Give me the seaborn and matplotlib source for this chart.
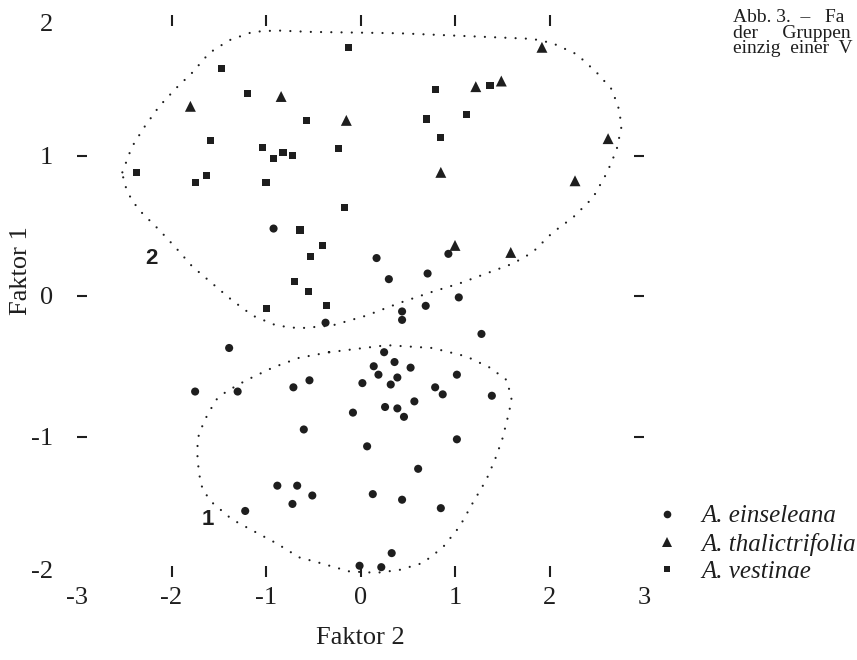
import numpy as np
import pandas as pd
import seaborn as sns
import matplotlib.pyplot as plt
from matplotlib.lines import Line2D

# Faktorwerte (x = Faktor 2, y = Faktor 1) je Art
einseleana_x = [-0.92, -0.37, 0.17, 0.30, 0.71, 0.93, 1.04, 0.69, 0.44, 0.44,
                -1.39, -1.75, -1.30, -0.71, -0.54, -0.60, -0.88, -0.67, -0.51, -0.72,
                -1.22, 1.28, 0.25, 0.14, 0.19, 0.36, 0.53, 0.39, 0.32, 0.02,
                1.02, 0.79, 0.87, 1.39, -0.08, 0.26, 0.39, 0.46, 0.57, 0.07,
                1.02, 0.61, 0.13, 0.44, 0.85, 0.33, -0.01, 0.22]
einseleana_y = [0.48, -0.19, 0.27, 0.12, 0.16, 0.30, -0.01, -0.07, -0.11, -0.17,
                -0.37, -0.68, -0.68, -0.65, -0.60, -0.95, -1.35, -1.35, -1.42, -1.48,
                -1.53, -0.27, -0.40, -0.50, -0.56, -0.47, -0.51, -0.58, -0.63, -0.62,
                -0.56, -0.65, -0.70, -0.71, -0.83, -0.79, -0.80, -0.86, -0.75, -1.07,
                -1.02, -1.23, -1.41, -1.45, -1.51, -1.83, -1.92, -1.93]

thalictrifolia_x = [-1.80, -0.84, 1.92, 1.22, 1.49, -0.15, 2.62, 0.85, 2.27, 1.00, 1.59]
thalictrifolia_y = [1.35, 1.42, 1.77, 1.49, 1.53, 1.25, 1.12, 0.88, 0.82, 0.36, 0.31]

vestinae_x = [-1.47, -1.20, -0.57, -1.59, -1.04, -0.92, -0.82, -0.72, -2.37, -1.75,
              -1.63, -1.00, -0.23, -0.13, -0.17, -0.64, -0.40, -0.53, -0.70, -0.55,
              -0.99, -0.36, 0.79, 1.37, 0.70, 1.12, 0.85]
vestinae_y = [1.62, 1.44, 1.25, 1.11, 1.06, 0.98, 1.02, 1.00, 0.88, 0.81,
              0.86, 0.81, 1.05, 1.77, 0.63, 0.47, 0.36, 0.28, 0.10, 0.03,
              -0.09, -0.07, 1.47, 1.50, 1.26, 1.29, 1.13]

# gepunktete Umrisse der Gruppen 1 und 2
group2_x = [-2.52, -2.42, -2.29, -2.13, -1.95, -1.78, -1.60, -1.39, -1.14, -0.89,
            -0.54, 0.41, 1.47, 1.82, 2.03, 2.29, 2.50, 2.66, 2.74, 2.76,
            2.71, 2.61, 2.46, 2.25, 2.03, 1.82, 1.61, 1.33, 1.05, 0.76,
            0.41, 0.06, -0.30, -0.65, -0.89, -1.14, -1.36, -1.57, -1.78, -1.95,
            -2.13, -2.31, -2.42, -2.50, -2.52]
group2_y = [0.88, 1.06, 1.20, 1.35, 1.48, 1.59, 1.73, 1.82, 1.88, 1.89,
            1.88, 1.87, 1.84, 1.83, 1.80, 1.72, 1.59, 1.47, 1.32, 1.20,
            1.04, 0.88, 0.70, 0.56, 0.45, 0.31, 0.23, 0.16, 0.09, 0.03,
            -0.05, -0.14, -0.21, -0.23, -0.21, -0.14, -0.03, 0.09, 0.21, 0.34,
            0.47, 0.59, 0.68, 0.80, 0.88]
group1_x = [-0.33, 0.28, 0.76, 1.12, 1.37, 1.55, 1.60, 1.56, 1.50, 1.42,
            1.33, 1.19, 1.05, 0.87, 0.66, 0.41, 0.17, -0.12, -0.43, -0.65,
            -0.89, -1.14, -1.36, -1.57, -1.67, -1.71, -1.73, -1.71, -1.63, -1.53,
            -1.42, -1.21, -0.93, -0.65, -0.33]
group1_y = [-0.40, -0.35, -0.37, -0.43, -0.51, -0.60, -0.74, -0.86, -1.02, -1.17,
            -1.31, -1.47, -1.64, -1.79, -1.90, -1.95, -1.97, -1.96, -1.90, -1.86,
            -1.76, -1.67, -1.59, -1.47, -1.38, -1.26, -1.10, -0.98, -0.86, -0.74,
            -0.68, -0.60, -0.51, -0.44, -0.40]

species = ["A. einseleana", "A. thalictrifolia", "A. vestinae"]
caption = ["Abb. 3.  \u2013   Fa", "der     Gruppen", "einzig  einer  V"]

df = pd.concat([
    pd.DataFrame({"f2": einseleana_x, "f1": einseleana_y, "art": species[0]}),
    pd.DataFrame({"f2": thalictrifolia_x, "f1": thalictrifolia_y, "art": species[1]}),
    pd.DataFrame({"f2": vestinae_x, "f1": vestinae_y, "art": species[2]}),
], ignore_index=True)

sns.set_theme(style="white")
plt.rcParams["font.family"] = ["Liberation Serif", "DejaVu Serif"]
ink = "#1e1e1e"

fig = plt.figure(figsize=(8.57, 6.6), dpi=100)
ax = fig.add_axes([77 / 857, 1 - 577 / 660, 567 / 857, 562 / 660])

markers = dict(zip(species, ["o", "^", "s"]))
sizes = dict(zip(species, [34, 62, 26]))
sns.scatterplot(data=df, x="f2", y="f1", style="art", size="art", markers=markers,
                sizes=sizes, color=ink, edgecolor="none", legend=False, ax=ax)

dots = dict(color=ink, lw=1.6, linestyle=(0, (0.01, 4.6)), dash_capstyle="round")
ax.plot(group2_x, group2_y, **dots)
ax.plot(group1_x, group1_y, **dots)

ax.text(-2.21, 0.27, "2", family="Liberation Sans", weight="bold", fontsize=16,
        color=ink, ha="center", va="center")
ax.text(-1.62, -1.59, "1", family="Liberation Sans", weight="bold", fontsize=16,
        color=ink, ha="center", va="center")

ax.set_xlim(-3, 3)
ax.set_ylim(-2, 2)
for s in ax.spines.values():
    s.set_visible(False)

# Beschriftung als Hauptstriche ohne Strich, die kurzen Striche als Nebenstriche
ax.xaxis.remove_overlapping_locs = False
ax.yaxis.remove_overlapping_locs = False
ax.set_xticks(range(-3, 4))
ax.set_xticklabels(["-3", "-2", "-1", "0", "1", "2", "3"])
ax.set_yticks([-1.95, -1, 0, 1, 1.95])
ax.set_yticklabels(["-2", "-1", "0", "1", "2"])
ax.tick_params(which="major", length=0, labelsize=19, colors=ink)
ax.tick_params(axis="x", which="major", pad=7)
ax.tick_params(axis="y", which="major", pad=17)
ax.set_xticks([-2, -1, 0, 1, 2], minor=True)
ax.set_yticks([-1, 0, 1], minor=True)
ax.tick_params(axis="x", which="minor", direction="in", length=8, width=1.5,
               top=True, bottom=True, color=ink)
ax.tick_params(axis="y", which="minor", direction="in", length=7.5, width=1.5,
               left=True, right=True, color=ink)

ax.set_xlabel("Faktor 2", fontsize=19, color=ink, va="center")
ax.set_ylabel("Faktor 1", fontsize=19, color=ink, va="center")
ax.xaxis.set_label_coords(0.5, -0.108)
ax.yaxis.set_label_coords(-0.099, 0.545)

handles = [Line2D([], [], ls="", marker=m, color=ink, markeredgewidth=0, markersize=ms)
           for m, ms in zip(["o", "^", "s"], [5.5, 7.5, 5])]
ax.legend(handles, species, loc="upper left", bbox_to_anchor=(654 / 857, 1 - 505 / 660),
          bbox_transform=fig.transFigure, frameon=False, borderpad=0, borderaxespad=0,
          handlelength=1.0, handletextpad=0.9, labelspacing=0.2,
          prop=dict(family="Liberation Serif", style="italic", size=18),
          labelcolor=ink)

fig.text(733 / 857, 1 - 9 / 660, "\n".join(caption), fontsize=14, color=ink,
         ha="left", va="top", linespacing=0.9)

fig.savefig("out.png", dpi=100)
